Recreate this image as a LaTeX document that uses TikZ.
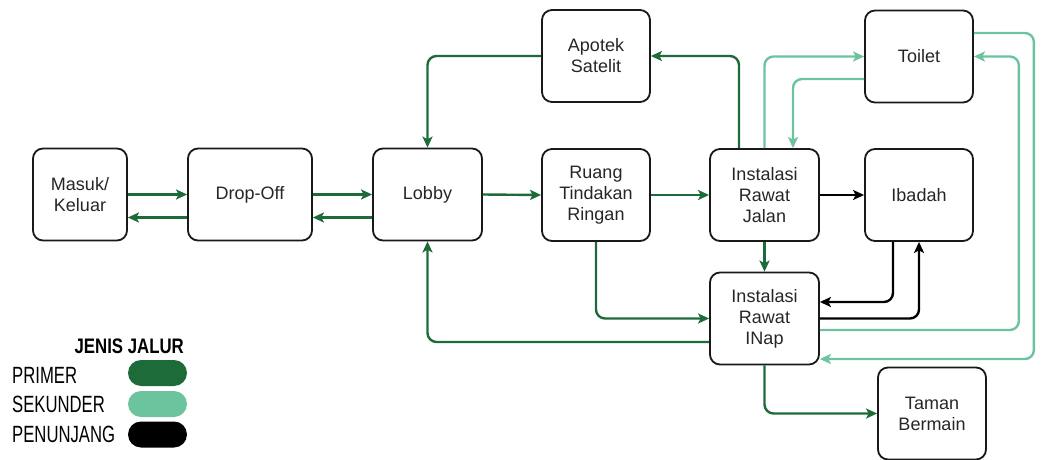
\documentclass[tikz,border=0pt]{standalone}
\usepackage{fontspec}
\setmainfont{Liberation Sans}
\newfontfamily\condfont[FakeStretch=0.71]{Liberation Sans}
\newfontfamily\condboldfont[FakeStretch=0.8]{Liberation Sans Bold}
\usetikzlibrary{arrows.meta,calc}
\definecolor{primer}{HTML}{1C6B38}
\definecolor{sekunder}{HTML}{6CC49F}
\definecolor{penunjang}{HTML}{000000}
\definecolor{boxtext}{HTML}{262626}
\tikzset{
  room/.style={draw=black!90, line width=1.8pt, rounded corners=10pt, fill=white,
    minimum width=#1, minimum height=92pt, align=center, text=boxtext,
    font=\fontsize{18}{21}\selectfont, inner sep=2pt},
  room/.default=108pt,
  link/.style={line width=2.4pt, rounded corners=9pt,
    -{Stealth[length=11pt,width=10pt,inset=2.5pt]}},
  prim/.style={link, draw=primer},
  sek/.style={link, draw=sekunder},
  pen/.style={link, draw=penunjang},
  legtext/.style={anchor=west, inner sep=0pt, font=\condfont\fontsize{23.5}{26}\selectfont},
  pill/.style={rounded corners=13pt, minimum width=59pt, minimum height=26pt, inner sep=0pt}
}
\begin{document}
\begin{tikzpicture}[x=1pt,y=-1pt]
\useasboundingbox (0,0) rectangle (1045,460);

% rooms
\node[room=94pt]  (mk)  at (80,194.5)    {Masuk/\\Keluar};
\node[room=124pt] (do)  at (250,194.5)   {Drop-Off};
\node[room=109pt] (lob) at (427.5,194.5) {Lobby};
\node[room]       (rtr) at (596,195)     {Ruang\\Tindakan\\Ringan};
\node[room]       (apo) at (596,56)      {Apotek\\Satelit};
\node[room=109pt] (irj) at (764.5,195)   {Instalasi\\Rawat\\Jalan};
\node[room]       (iba) at (919,195)     {Ibadah};
\node[room]       (toi) at (919,56.5)    {Toilet};
\node[room=109pt] (iri) at (764.5,318.5) {Instalasi\\Rawat\\INap};
\node[room]       (tam) at (932,413.5)   {Taman\\Bermain};

% primary routes
\draw[prim] (mk.east) -- (do.west);
\draw[prim] ($(do.west)+(0,23)$) -- ($(mk.east)+(0,23)$);
\draw[prim] (do.east) -- (lob.west);
\draw[prim] ($(lob.west)+(0,23)$) -- ($(do.east)+(0,23)$);
\draw[prim] (lob.east) -- (rtr.west);
\draw[prim] (rtr.east) -- (irj.west);
\draw[prim] (apo.west) -| (lob.north);
\draw[prim] ($(irj.north)+(-25.5,0)$) |- (apo.east);
\draw[prim] (irj.south) -- (iri.north);
\draw[prim] (rtr.south) |- (iri.west);
\draw[prim] ($(iri.west)+(0,23.5)$) -| (lob.south);
\draw[prim] (iri.south) |- (tam.west);

% secondary routes
\draw[sek] (irj.north) |- (toi.west);
\draw[sek] ($(toi.west)+(0,22.5)$) -| ($(irj.north)+(28.5,0)$);
\draw[sek] ($(iri.east)+(0,11.5)$) -| ($(toi.east)+(45,0)$) -- (toi.east);
\draw[sek] ($(toi.east)+(0,-23.5)$) -| ($(iri.east)+(214,40.5)$) -- ($(iri.east)+(0,40.5)$);

% supporting routes
\draw[pen] (irj.east) -- (iba.west);
\draw[pen] ($(iba.south)+(-26,0)$) |- ($(iri.east)+(0,-16.5)$);
\draw[pen] (iri.east) -| (iba.south);

% legend
\node[anchor=east, inner sep=0pt, font=\condboldfont\fontsize{21}{24}\selectfont] (lgtitle) at (184,346) {JENIS JALUR};
\node[legtext] (lgp) at (12,375) {PRIMER};
\node[legtext] (lgs) at (12,404) {SEKUNDER};
\node[legtext] (lgn) at (12,434) {PENUNJANG};
\node[pill, fill=primer]    (pp) at (157.5,373) {};
\node[pill, fill=sekunder]  (ps) at (157.5,404) {};
\node[pill, fill=penunjang] (pn) at (157.5,434.5) {};
\end{tikzpicture}
\end{document}
